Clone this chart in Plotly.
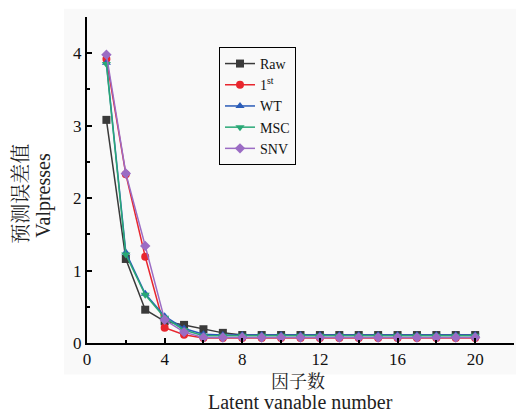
import plotly.graph_objects as go

x = list(range(1, 21))
raw = [3.08, 1.16, 0.46, 0.30, 0.25, 0.19, 0.14, 0.11, 0.11, 0.11, 0.11, 0.11, 0.11, 0.11, 0.11, 0.11, 0.11, 0.11, 0.11, 0.11]
first = [3.92, 2.33, 1.19, 0.21, 0.115, 0.07, 0.07, 0.07, 0.07, 0.07, 0.07, 0.07, 0.07, 0.07, 0.07, 0.07, 0.07, 0.07, 0.07, 0.07]
wt = [3.87, 1.25, 0.68, 0.37, 0.20, 0.12, 0.11, 0.11, 0.11, 0.11, 0.11, 0.11, 0.11, 0.11, 0.11, 0.11, 0.11, 0.11, 0.11, 0.11]
msc = [3.85, 1.22, 0.665, 0.35, 0.18, 0.10, 0.10, 0.10, 0.10, 0.10, 0.10, 0.10, 0.10, 0.10, 0.10, 0.10, 0.10, 0.10, 0.10, 0.10]
snv = [3.98, 2.34, 1.34, 0.32, 0.15, 0.075, 0.075, 0.075, 0.075, 0.075, 0.075, 0.075, 0.075, 0.075, 0.075, 0.075, 0.075, 0.075, 0.075, 0.075]

series = [
    ("Raw", raw, "#3a3a3a", "square"),
    ("1<sup>st</sup>", first, "#e8262e", "circle"),
    ("WT", wt, "#2a5cb8", "triangle-up"),
    ("MSC", msc, "#2aa876", "triangle-down"),
    ("SNV", snv, "#9b6cc4", "diamond"),
]

FONT = "Liberation Serif, Times New Roman, Noto Sans CJK SC, serif"
CJK = "Noto Serif CJK SC, Noto Sans CJK SC, sans-serif"

fig = go.Figure()
for name, ys, color, sym in series:
    fig.add_trace(go.Scatter(
        x=x, y=ys, name=name, mode="lines+markers",
        line=dict(color=color, width=1.5),
        marker=dict(symbol=sym, size=8, color=color),
    ))

fig.add_shape(type="rect", xref="paper", yref="paper",
              x0=-0.054, x1=1.01, y0=-0.097, y1=1.025,
              fillcolor="#f9f9f9", line=dict(width=0), layer="below")

fig.update_layout(
    width=516, height=413,
    margin=dict(l=87, r=2, t=17, b=70),
    paper_bgcolor="white",
    plot_bgcolor="rgba(0,0,0,0)",
    font=dict(family=FONT, size=17, color="#111"),
    showlegend=True,
    legend=dict(
        x=(219 - 87) / 427, y=(343.5 - 47) / 326.5, xanchor="left", yanchor="top",
        bgcolor="rgba(255,255,255,0)", bordercolor="black", borderwidth=1,
        font=dict(family=FONT, size=14, color="#111"),
        tracegroupgap=0, itemwidth=30,
    ),
    xaxis=dict(
        range=[0, 22], tickvals=[0, 4, 8, 12, 16, 20],
        showgrid=False, zeroline=False,
        showline=True, linecolor="black", linewidth=2,
        ticks="inside", ticklen=5, tickwidth=2, tickcolor="black",
        minor=dict(tickvals=[2, 6, 10, 14, 18, 22], ticks="inside", ticklen=3, tickwidth=2, tickcolor="black"),
        tickfont=dict(family=FONT, size=17),
    ),
    yaxis=dict(
        range=[0, 4.5], tickvals=[0, 1, 2, 3, 4],
        showgrid=False, zeroline=False,
        showline=True, linecolor="black", linewidth=2,
        ticks="inside", ticklen=5, tickwidth=2, tickcolor="black",
        minor=dict(tickvals=[0.5, 1.5, 2.5, 3.5, 4.5], ticks="inside", ticklen=3, tickwidth=2, tickcolor="black"),
        tickfont=dict(family=FONT, size=17),
    ),
)

def ann(text, px, py, fam, size, angle=0):
    fig.add_annotation(text=text, xref="paper", yref="paper",
                       x=(px - 87) / 427, y=(343.5 - py) / 326.5,
                       xanchor="center", yanchor="middle", textangle=angle,
                       showarrow=False, font=dict(family=fam, size=size, color="#222"))

ann("预测误差值", 20, 194, CJK, 20, -90)
ann("Valpresses", 44, 196, FONT, 20, -90)
ann("因子数", 298, 381, CJK, 18)
ann("Latent vanable number", 300, 403, FONT, 20)

fig.write_html("out.html", post_script="document.body.style.margin='0';",
               config={"displayModeBar": False})
